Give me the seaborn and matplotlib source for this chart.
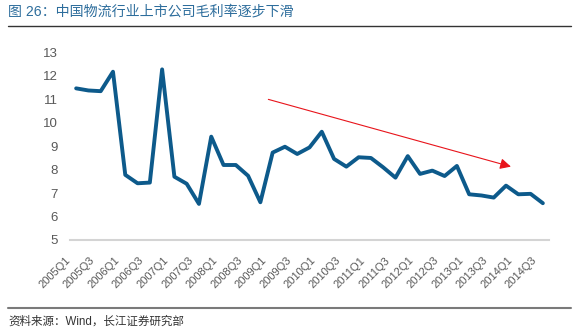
import matplotlib
matplotlib.use("Agg")
import matplotlib.pyplot as plt
import matplotlib.transforms as mtransforms
from matplotlib.lines import Line2D
import seaborn as sns
import pandas as pd

quarters = [
    "2005Q1", "2005Q2", "2005Q3", "2005Q4",
    "2006Q1", "2006Q2", "2006Q3", "2006Q4",
    "2007Q1", "2007Q2", "2007Q3", "2007Q4",
    "2008Q1", "2008Q2", "2008Q3", "2008Q4",
    "2009Q1", "2009Q2", "2009Q3", "2009Q4",
    "2010Q1", "2010Q2", "2010Q3", "2010Q4",
    "2011Q1", "2011Q2", "2011Q3", "2011Q4",
    "2012Q1", "2012Q2", "2012Q3", "2012Q4",
    "2013Q1", "2013Q2", "2013Q3", "2013Q4",
    "2014Q1", "2014Q2", "2014Q3",
]
gross_margin = [
    11.47, 11.38, 11.35, 12.18,
    7.78, 7.42, 7.45, 12.28,
    7.70, 7.40, 6.54, 9.41,
    8.20, 8.20, 7.74, 6.61,
    8.73, 8.98, 8.67, 8.95,
    9.62, 8.46, 8.13, 8.53,
    8.50, 8.10, 7.66, 8.58,
    7.82, 7.96, 7.73, 8.16,
    6.95, 6.90, 6.81, 7.32,
    6.95, 6.97, 6.57,
]
y_ticks = [5, 6, 7, 8, 9, 10, 11, 12, 13]
title_text = "图 26：中国物流行业上市公司毛利率逐步下滑"
source_text = "资料来源：Wind，长江证券研究部"

sns.set_theme(style="white")
plt.rcParams["font.family"] = ["Liberation Sans", "Noto Sans CJK SC", "DejaVu Sans"]

df = pd.DataFrame({"idx": range(len(quarters)), "quarter": quarters, "margin": gross_margin})

W, H = 578, 336
fig = plt.figure(figsize=(W / 100, H / 100), dpi=100)
ax = fig.add_axes([70 / W, 1 - 240 / H, (549 - 70) / W, (240 - 52.5) / H])

sns.lineplot(data=df, x="idx", y="margin", ax=ax, color="#0d5a8b", linewidth=2.8)

ax.set_xlim(-0.5, len(quarters) - 0.5)
ax.set_ylim(5, 13)
ax.set_yticks(y_ticks)
ax.set_yticklabels([str(v) for v in y_ticks])
xt = list(range(0, len(quarters), 2))
ax.set_xticks(xt)
ax.set_xticklabels([quarters[i] for i in xt], rotation=45, ha="right", va="top")
ax.set_xlabel("")
ax.set_ylabel("")
ax.tick_params(axis="y", length=0, pad=9, labelsize=9.5, labelcolor="#595959")
ax.tick_params(axis="x", length=0, pad=11, labelsize=8, labelcolor="#595959")
offset = mtransforms.ScaledTranslation(-4 / 100, 0, fig.dpi_scale_trans)
for lbl in ax.get_xticklabels():
    lbl.set_transform(lbl.get_transform() + offset)

for s in ["top", "right", "left"]:
    ax.spines[s].set_visible(False)
ax.spines["bottom"].set_color("#d4d4d4")
ax.spines["bottom"].set_linewidth(1.5)
ax.grid(False)

# trend arrow
ax.annotate("", xy=(35.4, 8.13), xytext=(15.65, 11.0),
            arrowprops=dict(arrowstyle="-|>", color="#e8141b", lw=0.8,
                            mutation_scale=16, shrinkA=0, shrinkB=0))

# title and rules
fig.text(8 / W, 1 - 11.5 / H, title_text, fontsize=10.1, color="#2d6d9c",
         va="center", ha="left")
fig.add_artist(Line2D([8 / W, 571 / W], [1 - 26 / H, 1 - 26 / H],
                      transform=fig.transFigure, color="#333333", lw=1.0))
fig.add_artist(Line2D([8 / W, 571 / W], [1 - 308 / H, 1 - 308 / H],
                      transform=fig.transFigure, color="#7a7a7a", lw=1.5))
fig.text(8 / W, 1 - 322 / H, source_text, fontsize=8.3, color="#333333",
         va="center", ha="left")

fig.savefig("out.png", dpi=100)
